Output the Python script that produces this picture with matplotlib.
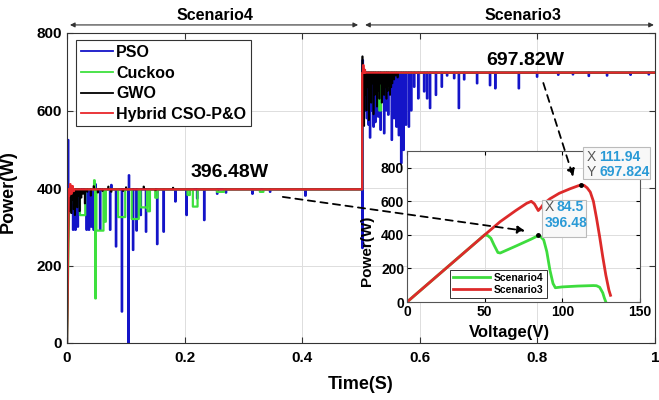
import matplotlib
matplotlib.use('Agg')
import matplotlib.pyplot as plt
from matplotlib.patches import Rectangle, ConnectionPatch

plt.rcParams['font.family'] = ['Liberation Sans', 'DejaVu Sans']
plt.rcParams['font.weight'] = 'bold'
plt.rcParams['axes.labelweight'] = 'bold'

# steady power levels (W) and the moment the irradiance changes (s)
p_sc4 = 396.48
p_sc3 = 697.82
t_switch = 0.502

# PSO dips / spikes: time (s), power (W)
pso4_t = [0.0015, 0.010, 0.014, 0.018, 0.033, 0.037, 0.041, 0.045, 0.048, 0.056,
          0.064, 0.073, 0.075, 0.083, 0.093, 0.104, 0.105, 0.112, 0.118, 0.125,
          0.134, 0.153, 0.164, 0.184, 0.203, 0.221, 0.233, 0.255, 0.270, 0.315,
          0.345, 0.405]
pso4_p = [524, 292, 292, 300, 292, 292, 300, 292, 410, 292,
          330, 292, 408, 249, 81, 0, 433, 240, 290, 330,
          287, 255, 287, 365, 330, 373, 317, 385, 388, 385,
          390, 380]
pso3_t = [0.5020, 0.5025, 0.5075, 0.5095, 0.5125, 0.515, 0.518, 0.521, 0.524, 0.529,
          0.533, 0.539, 0.543, 0.546, 0.552, 0.556, 0.560, 0.564, 0.568, 0.572,
          0.576, 0.581, 0.585, 0.590, 0.597, 0.607, 0.612, 0.617, 0.627, 0.637,
          0.646, 0.658, 0.666, 0.675, 0.697, 0.719, 0.728, 0.768, 0.799, 0.835,
          0.860, 0.887, 0.918, 0.958, 0.989]
pso3_p = [245, 730, 600, 580, 563, 530, 600, 558, 570, 584,
          550, 541, 600, 589, 524, 580, 558, 536, 464, 498,
          563, 558, 600, 661, 631, 649, 631, 606, 640, 661,
          690, 683, 606, 680, 670, 665, 657, 657, 687, 692,
          693, 689, 690, 692, 693]

# Cuckoo dips: start time (s), power (W), duration (s)
cuckoo4_t = [0.004, 0.022, 0.046, 0.048, 0.050, 0.063, 0.087, 0.110, 0.125, 0.137,
             0.150, 0.205, 0.214, 0.255, 0.328]
cuckoo4_p = [360, 330, 420, 115, 290, 313, 325, 320, 350, 340,
             375, 382, 352, 390, 390]
cuckoo4_w = [0.003, 0.009, 0.001, 0.001, 0.012, 0.003, 0.012, 0.012, 0.011, 0.004,
             0.004, 0.004, 0.008, 0.012, 0.006]
cuckoo3_t = [0.504, 0.531, 0.545]
cuckoo3_p = [690, 600, 660]
cuckoo3_w = [0.003, 0.003, 0.002]

# GWO dips
gwo4_t = [0.003, 0.005, 0.007, 0.009, 0.011, 0.013, 0.015, 0.017, 0.019, 0.021,
          0.024, 0.027, 0.030, 0.034, 0.040, 0.045, 0.052, 0.060, 0.070, 0.075,
          0.095, 0.100, 0.130, 0.150, 0.180]
gwo4_p = [340, 360, 335, 370, 345, 330, 365, 350, 380, 340,
          375, 385, 360, 390, 380, 405, 388, 392, 404, 390,
          392, 402, 404, 394, 401]
gwo3_t = [0.5022, 0.505, 0.507, 0.509, 0.511, 0.513, 0.515, 0.517, 0.519, 0.521,
          0.523, 0.525, 0.527, 0.529, 0.531, 0.533, 0.535, 0.537, 0.539, 0.541,
          0.543, 0.545, 0.547, 0.549, 0.551, 0.553, 0.556, 0.559, 0.562]
gwo3_p = [740, 560, 640, 600, 660, 575, 650, 620, 670, 590,
          640, 660, 610, 650, 630, 670, 620, 655, 640, 660,
          630, 650, 665, 640, 660, 670, 680, 690, 685]

# Hybrid CSO-P&O dips
hyb4_t = [0.003, 0.005, 0.007, 0.009, 0.011]
hyb4_p = [380, 410, 385, 405, 392]
hyb3_t = [0.5035, 0.506]
hyb3_p = [717, 705]

# P-V curves for the inset
s4_v = [0, 50, 52, 54, 56, 58.5, 60, 70, 80, 84.5, 86, 88, 90, 92, 94, 95.5,
        100, 110, 120, 122, 124, 126, 127, 128]
s4_p = [0, 400, 396, 380, 340, 295, 292, 333, 375, 396, 390, 370, 300, 190, 110, 85,
        90, 95, 98, 97, 88, 55, 25, 0]
s3_v = [0, 50, 60, 70, 77, 80, 82, 84.5, 86, 88, 92, 98, 105, 110, 112, 114, 116,
        118, 120, 122, 124, 126, 128, 130, 131]
s3_p = [0, 400, 479, 545, 588, 600, 585, 545, 560, 585, 615, 648, 675, 692, 698, 695, 680,
        655, 600, 500, 390, 270, 160, 70, 40]


def add_dips(t, p, dt, dp, dw, base):
    for ti, pi, wi in zip(dt, dp, dw):
        t += [ti, ti, ti + wi, ti + wi]
        p += [base, pi, pi, base]


def trace(d4, d3):
    t, p = [0.0], [0.0]
    add_dips(t, p, *d4, p_sc4)
    t += [t_switch, t_switch]
    p += [p_sc4, p_sc3]
    add_dips(t, p, *d3, p_sc3)
    t.append(1.0)
    p.append(p_sc3)
    return t, p


def narrow(ts, w):
    return [w] * len(ts)


fig = plt.figure(figsize=(6.59, 4.0), dpi=100)
ax = fig.add_axes([0.1017, 0.1425, 0.8923, 0.775])

series = [
    ('PSO', '#1414c8', 1.6, (pso4_t, pso4_p, narrow(pso4_t, 0.0008)), (pso3_t, pso3_p, narrow(pso3_t, 0.0008))),
    ('Cuckoo', '#3ee03e', 1.6, (cuckoo4_t, cuckoo4_p, cuckoo4_w), (cuckoo3_t, cuckoo3_p, cuckoo3_w)),
    ('GWO', 'black', 1.2, (gwo4_t, gwo4_p, narrow(gwo4_t, 0.0008)), (gwo3_t, gwo3_p, narrow(gwo3_t, 0.0005))),
    ('Hybrid CSO-P&O', '#e8262b', 1.6, (hyb4_t, hyb4_p, narrow(hyb4_t, 0.0008)), (hyb3_t, hyb3_p, narrow(hyb3_t, 0.0008))),
]
for name, col, lw, d4, d3 in series:
    t, p = trace(d4, d3)
    ax.plot(t, p, color=col, lw=lw, label=name)

ax.set_xlim(0, 1)
ax.set_ylim(0, 800)
ax.set_xticks([0, 0.2, 0.4, 0.6, 0.8, 1])
ax.set_xticklabels(['0', '0.2', '0.4', '0.6', '0.8', '1'])
ax.set_yticks([0, 200, 400, 600, 800])
ax.tick_params(direction='in', top=True, right=True, labelsize=11, length=4, color='#333333')
ax.tick_params(axis='x', pad=6)
ax.grid(True, color='#dddddd', lw=0.7)
for s in ax.spines.values():
    s.set_color('#333333')
ax.set_xlabel('Time(S)', fontsize=13)
ax.set_ylabel('Power(W)', fontsize=13)
ax.xaxis.set_label_coords(0.50, -0.105)
ax.yaxis.set_label_coords(-0.085, 0.49)

leg = ax.legend(loc='upper left', bbox_to_anchor=(0.016, 0.977), borderaxespad=0,
                fontsize=11.5, handlelength=2.0, handletextpad=0.2, labelspacing=0.35,
                fancybox=False, framealpha=1, borderpad=0.3)
leg.get_frame().set_edgecolor('#333333')
leg.get_frame().set_linewidth(0.8)
for h in leg.get_lines():
    h.set_linewidth(1.3)

# scenario spans above the plot
arr = dict(arrowstyle='<|-|>', color='#333333', lw=0.8, mutation_scale=7, shrinkA=0, shrinkB=0)
ax.annotate('', xy=(0.005, 1.026), xytext=(0.495, 1.026), xycoords='axes fraction', arrowprops=arr)
ax.annotate('', xy=(0.507, 1.026), xytext=(0.998, 1.026), xycoords='axes fraction', arrowprops=arr)
ax.text(0.252, 1.058, 'Scenario4', transform=ax.transAxes, ha='center', va='center', fontsize=11.5)
ax.text(0.776, 1.058, 'Scenario3', transform=ax.transAxes, ha='center', va='center', fontsize=11.5)

ax.text(0.277, 439, '396.48W', ha='center', va='center', fontsize=14)
ax.text(0.78, 730, '697.82W', ha='center', va='center', fontsize=14)

# inset with the P-V curves
ax_in = fig.add_axes([0.6176, 0.245, 0.3536, 0.3775])
ax_in.set_facecolor('white')
ax_in.plot(s4_v, s4_p, color='#3ddc3d', lw=2, label='Scenario4')
ax_in.plot(s3_v, s3_p, color='#dd2a2a', lw=2, label='Scenario3')
ax_in.set_xlim(0, 150)
ax_in.set_ylim(0, 900)
ax_in.set_xticks([0, 50, 100, 150])
ax_in.set_yticks([0, 200, 400, 600, 800])
ax_in.tick_params(direction='in', top=True, right=True, labelsize=10, length=3, pad=2)
ax_in.grid(True, color='#dddddd', lw=0.7)
for s in ax_in.spines.values():
    s.set_color('#555555')
ax_in.set_xlabel('Voltage(V)', fontsize=12)
ax_in.set_ylabel('Power(W)', fontsize=11)
ax_in.xaxis.set_label_coords(0.44, -0.155)
ax_in.yaxis.set_label_coords(-0.14, 0.34)
lg2 = ax_in.legend(loc='lower left', bbox_to_anchor=(0.185, 0.025), borderaxespad=0,
                   fontsize=7.5, handlelength=3.5, handletextpad=0.4, labelspacing=0.2,
                   fancybox=False, framealpha=1, borderpad=0.3)
lg2.get_frame().set_edgecolor('#333333')
lg2.get_frame().set_linewidth(0.7)

# data tips
ax_in.plot([84.5, 111.94], [396.48, 697.824], 'o', color='black', ms=2.5, zorder=5)
tip_blue = '#2a9ad6'
ax_in.add_patch(Rectangle((86.9, 388), 28.5, 221, facecolor='#f8f8f8', edgecolor='#bbbbbb',
                          lw=0.8, zorder=6, clip_on=False))
ax_in.text(88.8, 567, 'X', color='#555555', fontweight='normal', fontsize=10, va='center', zorder=7)
ax_in.text(96.0, 567, '84.5', color=tip_blue, fontsize=10, va='center', zorder=7)
ax_in.text(88.8, 472, '396.48', color=tip_blue, fontsize=10, va='center', zorder=7)
ax_in.add_patch(Rectangle((113.3, 734), 43.2, 191, facecolor='#f8f8f8', edgecolor='#bbbbbb',
                          lw=0.8, zorder=6, clip_on=False))
ax_in.text(115.5, 866, 'X', color='#555555', fontweight='normal', fontsize=10, va='center',
           zorder=7, clip_on=False)
ax_in.text(123.8, 866, '111.94', color=tip_blue, fontsize=10, va='center', zorder=7, clip_on=False)
ax_in.text(115.5, 776, 'Y', color='#555555', fontweight='normal', fontsize=10, va='center',
           zorder=7, clip_on=False)
ax_in.text(123.8, 776, '697.824', color=tip_blue, fontsize=10, va='center', zorder=7, clip_on=False)

# dashed pointers from the time plot to the inset
for a, b in [((0.367, 377), (76, 424)), ((0.81, 671), (107, 746))]:
    cp = ConnectionPatch(xyA=a, coordsA=ax.transData, xyB=b, coordsB=ax_in.transData,
                         arrowstyle='-|>', linestyle=(0, (4, 3)), lw=1.3, color='black',
                         mutation_scale=11, shrinkA=0, shrinkB=0)
    fig.add_artist(cp)

fig.savefig('out.png', dpi=100)
